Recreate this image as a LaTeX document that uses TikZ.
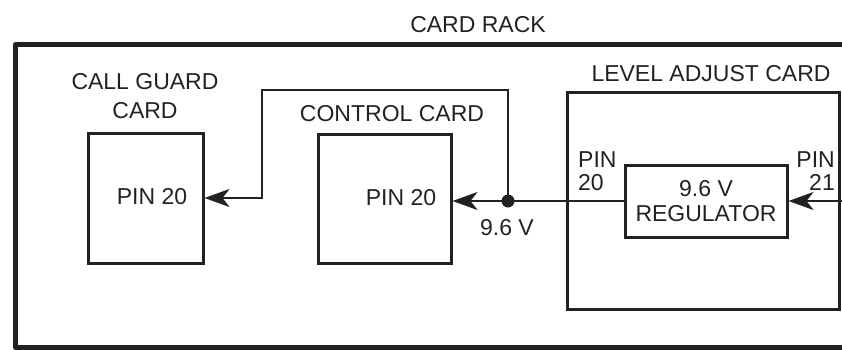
\documentclass[tikz,border=0pt]{standalone}
\usepackage{fontspec}
\setmainfont{Liberation Sans}
\usetikzlibrary{arrows.meta}
\definecolor{ink}{HTML}{222222}
\tikzset{
  rackline/.style={draw=ink,line width=5pt,line join=round},
  cardbox/.style={draw=ink,line width=3pt,rectangle,inner sep=0pt},
  wire/.style={draw=ink,line width=2pt},
  tip/.style={-{Stealth[length=25pt,width=18pt,inset=7pt]}},
  lbl/.style={text=ink,inner sep=0pt,font=\fontsize{23}{27}\selectfont,align=center},
}
\begin{document}
\begin{tikzpicture}[x=1pt,y=-1pt]
\useasboundingbox (0,0) rectangle (842,350);
% card rack frame (open to the right)
\coordinate (rTR) at (842,45);
\coordinate (rTL) at (15,45);
\coordinate (rBL) at (15,347);
\coordinate (rBR) at (842,347);
\draw[rackline] (rTR) -- (rTL) -- (rBL) -- (rBR);
\node[lbl] (racklbl) at (478,25) {CARD RACK};

% call guard card
\node[cardbox,minimum width=115pt,minimum height=130pt] (cg) at (145.5,198) {};
\node[lbl,font=\fontsize{23}{28.5}\selectfont] (cglbl) at (145,96) {CALL GUARD\\CARD};
\node[lbl] (cgpin) at (152,197) {PIN 20};

% control card
\node[cardbox,minimum width=133pt,minimum height=129pt] (cc) at (384.5,198.5) {};
\node[lbl] (cclbl) at (392,114) {CONTROL CARD};
\node[lbl] (ccpin) at (401,198) {PIN 20};

% level adjust card
\node[cardbox,minimum width=272pt,minimum height=216pt] (la) at (703.5,201) {};
\node[lbl] (lalbl) at (711,73.5) {LEVEL ADJUST CARD};
\node[cardbox,minimum width=162pt,minimum height=72pt,lbl,font=\fontsize{23}{25.5}\selectfont] (reg) at (706,201) {9.6 V\\REGULATOR};
\node[lbl,align=left,anchor=west,font=\fontsize{23}{22.5}\selectfont] (p20) at (578,171) {PIN\\20};
\node[lbl,align=right,anchor=east,font=\fontsize{23}{22.5}\selectfont] (p21) at (835,171) {PIN\\21};

% wiring
\coordinate (j) at (508,201);
\coordinate (wtop) at (262,90);
\coordinate (inR) at (842,201);
\node[lbl] (vlbl) at (507,227.5) {9.6 V};
\draw[wire,tip] (inR) -- (reg.east);
\draw[wire] (reg.west) -- (j);
\draw[wire,tip] (j) -- (cc.east |- j);
\draw[wire,tip] (j) |- (wtop) |- (cg.east);
\fill[ink] (j) circle (6.5pt);
\end{tikzpicture}
\end{document}
